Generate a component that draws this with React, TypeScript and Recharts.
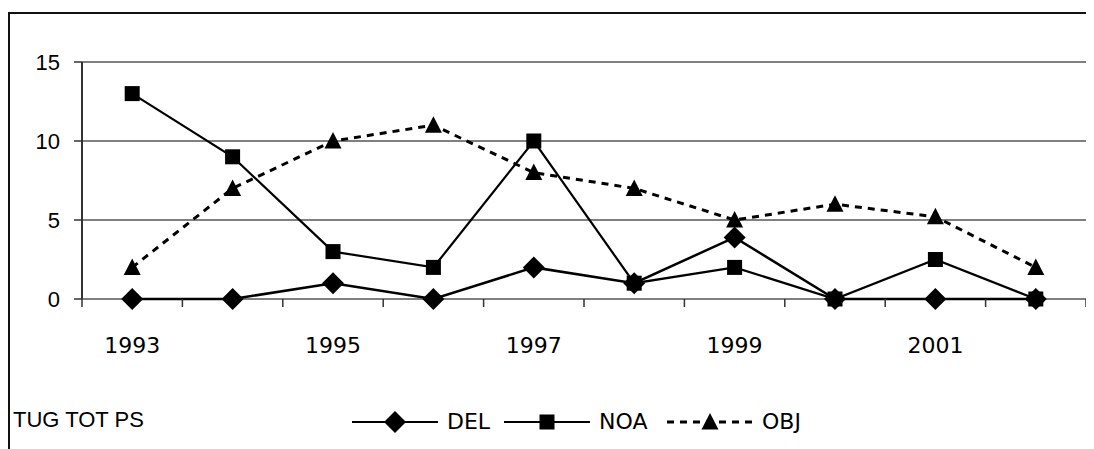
import React from "react"
import { LineChart, Line, XAxis, YAxis, CartesianGrid } from "recharts"

// values
const years = [1993, 1994, 1995, 1996, 1997, 1998, 1999, 2000, 2001, 2002]
const delValues = [0, 0, 1, 0, 2, 1, 3.9, 0, 0, 0]
const noaValues = [13, 9, 3, 2, 10, 1, 2, 0, 2.5, 0]
const objValues = [2, 7, 10, 11, 8, 7, 5, 6, 5.2, 2]
const seriesNames = ["DEL", "NOA", "OBJ"]
const yTicks = [0, 5, 10, 15]
const labeledYears = [1993, 1995, 1997, 1999, 2001]
const footLabel = "TUG TOT PS"

const data = years.map((year, i) => ({
  year,
  DEL: delValues[i],
  NOA: noaValues[i],
  OBJ: objValues[i],
}))

// category boundaries, where Excel puts its tick marks
const boundaryTicks = [...years.map((y) => y - 0.5), years[years.length - 1] + 0.5]
const xDomain = [boundaryTicks[0], boundaryTicks[boundaryTicks.length - 1]]

const sansFont = "'Liberation Sans', Arial, sans-serif"
const labelFont = "'DejaVu Sans', sans-serif"

const Diamond = ({ cx, cy }: { cx: number; cy: number }) => (
  <path d={`M${cx},${cy - 11}L${cx + 11},${cy}L${cx},${cy + 11}L${cx - 11},${cy}Z`} fill="#000" />
)
const Square = ({ cx, cy }: { cx: number; cy: number }) => (
  <rect x={cx - 7.5} y={cy - 7.5} width={15} height={15} fill="#000" />
)
const Triangle = ({ cx, cy }: { cx: number; cy: number }) => (
  <path d={`M${cx},${cy - 9}L${cx + 8.5},${cy + 7.5}L${cx - 8.5},${cy + 7.5}Z`} fill="#000" />
)

const markers: Record<string, React.FC<{ cx: number; cy: number }>> = {
  DEL: Diamond,
  NOA: Square,
  OBJ: Triangle,
}

const makeDot = (name: string) => (props: any) => {
  const M = markers[name]
  if (props.cx == null || props.cy == null) return <g key={`${name}-${props.index}`} />
  return (
    <g key={`${name}-${props.index}`}>
      <M cx={props.cx} cy={props.cy} />
    </g>
  )
}

const legendLeft = [344, 496, 659]

export default function App() {
  return (
    <div style={{ position: "relative", width: 1086, height: 441, overflow: "hidden" }}>
      <div style={{
        position: "absolute", left: 0, top: 4, width: 1086, height: 437,
        borderTop: "2px solid #111", borderLeft: "2px solid #111", boxSizing: "border-box"
      }} />
      <div style={{ position: "absolute", left: 0, top: 0 }}>
        <LineChart width={1086} height={441} data={data}
          margin={{ top: 54, right: 8, left: 0, bottom: 119 }}>
          <CartesianGrid vertical={false} stroke="#808080" strokeWidth={2} />
          {/* year labels */}
          <XAxis xAxisId="labels" dataKey="year" type="number" domain={xDomain}
            ticks={labeledYears} interval={0} tickLine={false} axisLine={false}
            tickSize={0} tickMargin={37} height={30}
            tick={{ fontFamily: labelFont, fontSize: 22, fill: "#000" }} />
          {/* tick marks at the category boundaries */}
          <XAxis dataKey="year" type="number" domain={xDomain}
            ticks={boundaryTicks} interval={0} tick={() => <g />} tickSize={8} height={1}
            tickLine={{ stroke: "#333", strokeWidth: 1.5 }} axisLine={false} />
          <YAxis domain={[0, 15]} ticks={yTicks} width={74} tickSize={8} tickMargin={14}
            axisLine={{ stroke: "#333", strokeWidth: 2 }} tickLine={{ stroke: "#333", strokeWidth: 1.5 }}
            tick={{ fontFamily: sansFont, fontSize: 22, fill: "#000" }} />
          <YAxis yAxisId="r" orientation="right" domain={[0, 15]} width={0} tick={false}
            tickLine={false} axisLine={{ stroke: "#808080", strokeWidth: 2 }} />
          <Line dataKey="OBJ" stroke="#000" strokeWidth={3} strokeDasharray="7 6"
            dot={makeDot("OBJ")} activeDot={false} isAnimationActive={false} />
          <Line dataKey="NOA" stroke="#000" strokeWidth={2.2} dot={makeDot("NOA")}
            activeDot={false} isAnimationActive={false} />
          <Line dataKey="DEL" stroke="#000" strokeWidth={2.5} dot={makeDot("DEL")}
            activeDot={false} isAnimationActive={false} />
        </LineChart>
      </div>
      <div style={{
        position: "absolute", left: 5, top: 399, fontFamily: sansFont, fontSize: 22,
        lineHeight: "26px", color: "#000", whiteSpace: "nowrap"
      }}>
        {footLabel}
      </div>
      {seriesNames.map((name, i) => {
        const M = markers[name]
        return (
          <div key={name} style={{
            position: "absolute", left: legendLeft[i], top: 401, height: 26,
            display: "flex", alignItems: "center", whiteSpace: "nowrap"
          }}>
            <svg width={86} height={26}>
              <line x1={0} x2={86} y1={13} y2={13} stroke="#000"
                strokeWidth={name === "OBJ" ? 3 : 2.2}
                strokeDasharray={name === "OBJ" ? "7 6" : undefined} />
              <M cx={43} cy={13} />
            </svg>
            <span style={{ marginLeft: 9, fontFamily: labelFont, fontSize: 22, lineHeight: "26px", color: "#000" }}>
              {name}
            </span>
          </div>
        )
      })}
    </div>
  )
}
